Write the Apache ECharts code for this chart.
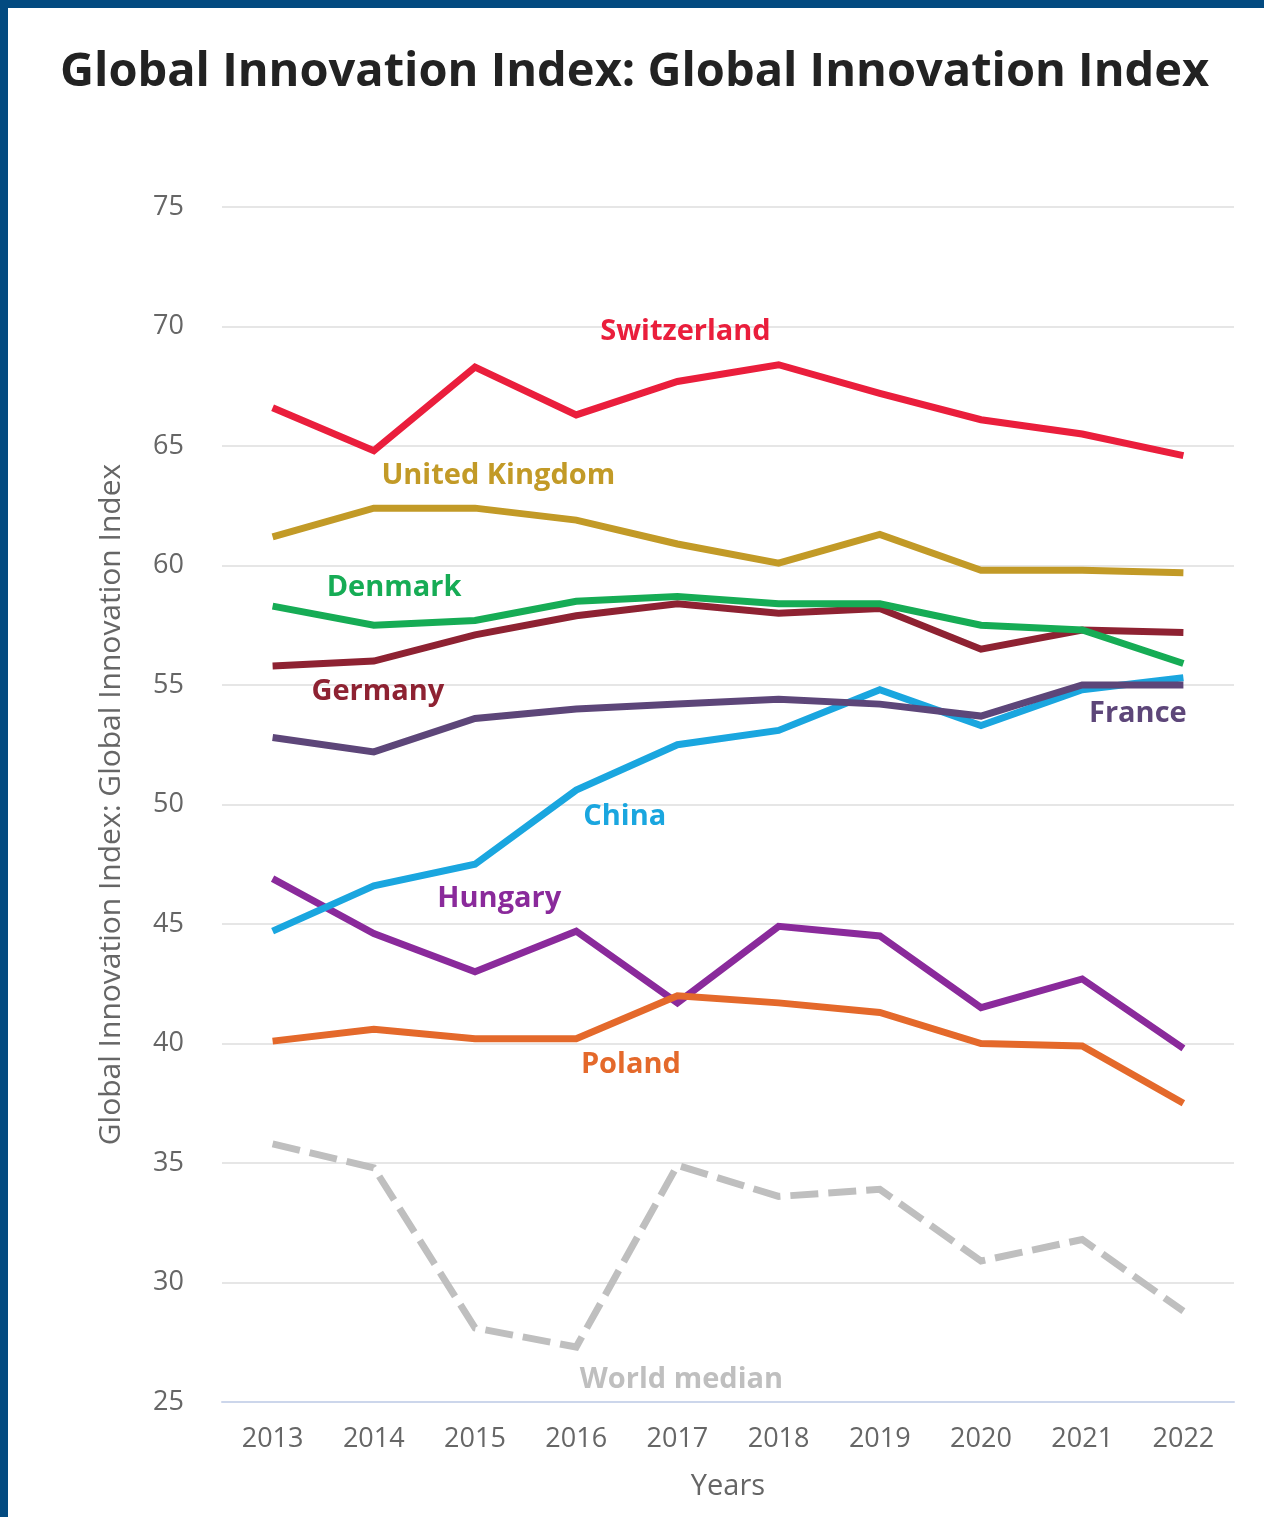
<!DOCTYPE html>
<html>
<head>
<meta charset="utf-8">
<title>Global Innovation Index</title>
<script src="https://cdn.jsdelivr.net/npm/echarts@6/dist/echarts.min.js"></script>
<style>
  html, body { margin: 0; padding: 0; background: #fff; }
  #chart { width: 1264px; height: 1517px; }
</style>
</head>
<body>
<div id="chart"></div>
<script>
// data
const years = ["2013", "2014", "2015", "2016", "2017", "2018", "2019", "2020", "2021", "2022"];
const worldMedian = [35.8, 34.8, 28.1, 27.3, 34.9, 33.6, 33.9, 30.9, 31.8, 28.8];
const hungary = [46.9, 44.6, 43.0, 44.7, 41.7, 44.9, 44.5, 41.5, 42.7, 39.8];
const poland = [40.1, 40.6, 40.2, 40.2, 42.0, 41.7, 41.3, 40.0, 39.9, 37.5];
const china = [44.7, 46.6, 47.5, 50.6, 52.5, 53.1, 54.8, 53.3, 54.8, 55.3];
const france = [52.8, 52.2, 53.6, 54.0, 54.2, 54.4, 54.2, 53.7, 55.0, 55.0];
const germany = [55.8, 56.0, 57.1, 57.9, 58.4, 58.0, 58.2, 56.5, 57.3, 57.2];
const denmark = [58.3, 57.5, 57.7, 58.5, 58.7, 58.4, 58.4, 57.5, 57.3, 55.9];
const unitedKingdom = [61.2, 62.4, 62.4, 61.9, 60.9, 60.1, 61.3, 59.8, 59.8, 59.7];
const switzerland = [66.6, 64.8, 68.3, 66.3, 67.7, 68.4, 67.2, 66.1, 65.5, 64.6];

// label anchors in data space: [name, category position, value]
const seriesLabels = [
  ["Switzerland", 4.08, 69.8],
  ["United Kingdom", 2.23, 63.75],
  ["Denmark", 1.2, 59.05],
  ["Germany", 1.04, 54.7],
  ["France", 8.55, 53.8],
  ["China", 3.48, 49.5],
  ["Hungary", 2.24, 46.05],
  ["Poland", 3.54, 39.1],
  ["World median", 4.04, 25.95]
];

const colors = {
  "World median": "#bfbfbf",
  "Hungary": "#8a2a9b",
  "Poland": "#e4692b",
  "China": "#1aa6df",
  "France": "#5d4679",
  "Germany": "#8e2232",
  "Denmark": "#16ac55",
  "United Kingdom": "#c29a27",
  "Switzerland": "#ea1e3c"
};

const font = "'Open Sans', 'Noto Sans', sans-serif";

function lineSeries(name, data, dashed) {
  return {
    name: name,
    type: "line",
    data: data,
    showSymbol: false,
    symbol: "none",
    lineStyle: {
      color: colors[name],
      width: 7,
      cap: "butt",
      join: "miter",
      type: dashed ? [28, 10] : "solid"
    },
    emphasis: { disabled: true }
  };
}

const chart = echarts.init(document.getElementById("chart"));
const option = {
  animation: false,
  backgroundColor: "#fff",
  title: {
    text: "Global Innovation Index: Global Innovation Index",
    left: 55,
    top: 44,
    textStyle: { fontFamily: font, fontSize: 47, fontWeight: "bold", color: "#222" }
  },
  grid: { left: 222, right: 30, top: 207, bottom: 115 },
  xAxis: {
    type: "category",
    data: years,
    boundaryGap: true,
    name: "Years",
    nameLocation: "middle",
    nameGap: 70,
    nameTextStyle: { fontFamily: font, fontSize: 29, color: "#666" },
    axisLine: { lineStyle: { color: "#ccd6eb", width: 2 } },
    axisTick: { show: false },
    axisLabel: { fontFamily: font, fontSize: 27, color: "#666", margin: 24 }
  },
  yAxis: {
    type: "value",
    min: 25,
    max: 75,
    interval: 5,
    name: "Global Innovation Index: Global Innovation Index",
    nameLocation: "middle",
    nameGap: 96,
    nameTextStyle: { fontFamily: font, fontSize: 30, color: "#666" },
    axisLine: { show: false },
    axisTick: { show: false },
    axisLabel: { fontFamily: font, fontSize: 27, color: "#666", margin: 38 },
    splitLine: { lineStyle: { color: "#e6e6e6", width: 2 } }
  },
  series: [
    lineSeries("World median", worldMedian, true),
    lineSeries("Hungary", hungary),
    lineSeries("Poland", poland),
    lineSeries("China", china),
    lineSeries("France", france),
    lineSeries("Germany", germany),
    lineSeries("Denmark", denmark),
    lineSeries("United Kingdom", unitedKingdom),
    lineSeries("Switzerland", switzerland)
  ]
};
chart.setOption(option);

// category axis rounds fractional indices, so interpolate between neighbours
function toPixel(pos, value) {
  const i0 = Math.floor(pos);
  const f = pos - i0;
  const a = chart.convertToPixel({ gridIndex: 0 }, [i0, value]);
  const b = chart.convertToPixel({ gridIndex: 0 }, [i0 + 1, value]);
  return [a[0] + (b[0] - a[0]) * f, a[1]];
}

// frame + series name labels
const graphics = [
  { type: "rect", shape: { x: 0, y: 0, width: 1264, height: 8 }, style: { fill: "#034a80" }, silent: true },
  { type: "rect", shape: { x: 0, y: 0, width: 8, height: 1517 }, style: { fill: "#034a80" }, silent: true }
];
seriesLabels.forEach(function (l) {
  const p = toPixel(l[1], l[2]);
  graphics.push({
    type: "text",
    x: p[0],
    y: p[1],
    z: 100,
    silent: true,
    style: {
      text: l[0],
      fill: colors[l[0]],
      font: "bold 29px " + font,
      align: "center",
      verticalAlign: "middle"
    }
  });
});
chart.setOption({ graphic: graphics });
</script>
</body>
</html>
